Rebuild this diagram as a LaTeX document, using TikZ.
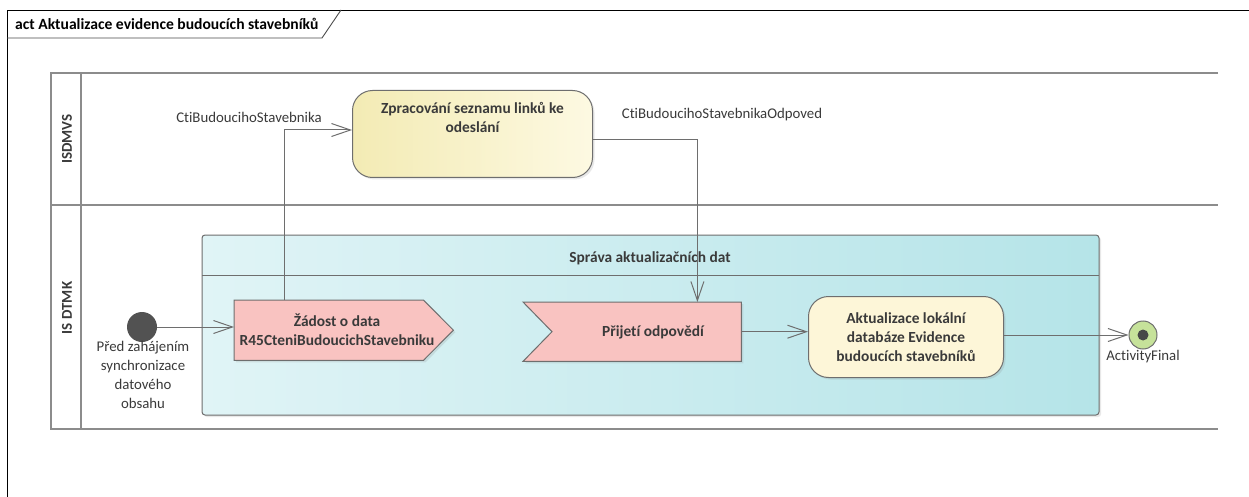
\documentclass[tikz,border=0pt]{standalone}
\usepackage{fontspec}
\setmainfont{Carlito}[Ligatures=NoCommon]
\usetikzlibrary{arrows.meta,calc,shadows}
\definecolor{laneline}{HTML}{8C8C8C}
\definecolor{edge}{HTML}{6E6E6E}
\definecolor{txt}{HTML}{3A3A3A}
\definecolor{pinkfill}{HTML}{F9C3C1}
\definecolor{yelA}{HTML}{F3EBB4}
\definecolor{yelB}{HTML}{FDF9E2}
\definecolor{yelC}{HTML}{FDF6D8}
\definecolor{tealA}{HTML}{E0F4F6}
\definecolor{tealB}{HTML}{B5E4E8}
\definecolor{greenring}{HTML}{C6E29A}
\tikzset{
  lane/.style={draw=laneline, line width=2.4pt},
  flow/.style={draw=edge, line width=1pt, -{Straight Barb[length=19pt,width=13pt,line width=1pt]}},
  plain/.style={draw=edge, line width=1pt},
  lbl/.style={text=txt, font=\fontsize{14.8}{19}\selectfont, inner sep=0pt},
  blbl/.style={text=txt, font=\bfseries\fontsize{15.4}{19}\selectfont, inner sep=0pt, align=center},
  softshadow/.style={drop shadow={opacity=0.18, shadow xshift=2pt, shadow yshift=-2pt}},
}
\begin{document}
\begin{tikzpicture}[x=1pt,y=-1pt]
\useasboundingbox (0,0) rectangle (1249,497);
\fill[white] (0,0) rectangle (1249,497);
% frame
\draw[black, line width=0.9pt] (7,497) -- (7,10) -- (1249,10);
\draw[black!70, line width=0.9pt] (7,38) -- (322,38) -- (341,10);
\node[anchor=west, font=\bfseries\fontsize{15.6}{18}\selectfont, text=black, inner sep=0pt] (title) at (15,24) {act Aktualizace evidence budoucích stavebníků};
% swimlanes
\draw[lane] (1218,73) -- (51,73) -- (51,429) -- (1218,429);
\draw[lane] (51,205) -- (1218,205);
\draw[lane] (81,73) -- (81,429);
\node[rotate=90, font=\bfseries\fontsize{15}{18}\selectfont, text=txt, inner sep=0pt] (laneA) at (67,139) {ISDMVS};
\node[rotate=90, font=\bfseries\fontsize{15}{18}\selectfont, text=txt, inner sep=0pt] (laneB) at (67,308) {IS DTMK};
% region
\shade[left color=tealA, right color=tealB, rounded corners=3pt, softshadow, draw=edge, line width=1pt] (202,235) rectangle (1099,415);
\draw[plain] (202,275) -- (1099,275);
\node[blbl] (region) at (650,258) {Správa aktualizačních dat};
% Zpracovani
\node[draw=edge, line width=1pt, rounded corners=20pt, left color=yelA, right color=yelB, softshadow, minimum width=240pt, minimum height=87pt, anchor=north west, inner sep=0pt] (zprac) at (352,90) {};
\node[blbl, anchor=north] (zpractext) at ([yshift=-12pt]zprac.north) {Zpracování seznamu linků ke\\odeslání};
% Zadost (send signal)
\node[minimum width=189pt, minimum height=60pt, anchor=north west, inner sep=0pt] (zadost) at (234,300) {};
\filldraw[fill=pinkfill, draw=edge, line width=1pt, softshadow] (zadost.north west) -- (zadost.north east) -- ($(zadost.east)+(30,0)$) -- (zadost.south east) -- (zadost.south west) -- cycle;
\node[blbl] (zadosttext) at (337,330) {Žádost o data\\R45CteniBudoucichStavebniku};
% Prijeti (accept event)
\node[minimum width=189pt, minimum height=59pt, anchor=north west, inner sep=0pt] (prijeti) at (552,302) {};
\filldraw[fill=pinkfill, draw=edge, line width=1pt, softshadow] (prijeti.north east) -- ($(prijeti.north west)+(-29,0)$) -- (prijeti.west) -- ($(prijeti.south west)+(-29,0)$) -- (prijeti.south east) -- cycle;
\node[blbl] (prijetitext) at (653,332) {Přijetí odpovědí};
% Aktualizace
\node[draw=edge, line width=1pt, rounded corners=20pt, fill=yelC, softshadow, minimum width=195pt, minimum height=81pt, anchor=north west, inner sep=0pt, blbl] (aktual) at (808,296) {Aktualizace lokální\\databáze Evidence\\budoucích stavebníků};
% initial
\node[circle, fill=black!68, minimum size=30pt, inner sep=0pt] (init) at (142,327) {};
\node[lbl, align=center, anchor=north] (initlbl) at (143,341) {Před zahájením\\synchronizace\\datového\\obsahu};
% final
\node[circle, draw=edge, line width=1pt, fill=greenring, minimum size=28pt, inner sep=0pt] (final) at (1143,335) {};
\node[circle, fill=black!72, minimum size=11pt, inner sep=0pt] (finaldot) at (final.center) {};
\node[lbl, anchor=north] (finallbl) at (1143,350) {ActivityFinal};
% flows
\draw[flow] (init.east) -- (init.east -| zadost.west);
\draw[flow] ($(zadost.north west)+(50,0)$) |- ([yshift=4pt]zprac.west);
\draw[flow] ([yshift=-6pt]zprac.east) -| ($(prijeti.north east)+(-44,0)$);
\draw[flow] (prijeti.east) -- (prijeti.east -| aktual.west);
\draw[flow] (aktual.east |- final.west) -- (final.west);
\node[lbl] (cti) at (249,117) {CtiBudoucihoStavebnika};
\node[lbl] (ctiodp) at (722,115) {CtiBudoucihoStavebnikaOdpoved};
\end{tikzpicture}
\end{document}
